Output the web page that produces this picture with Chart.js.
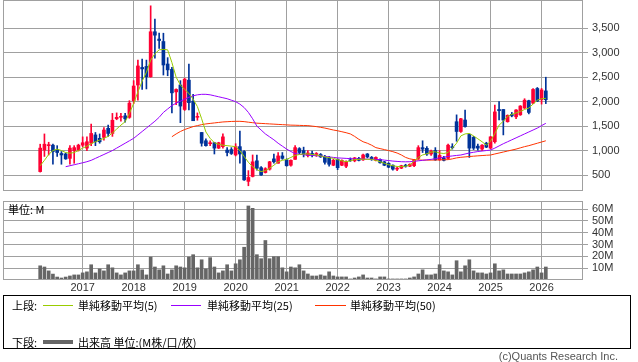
<!DOCTYPE html>
<html>
<head>
<meta charset="utf-8">
<script src="https://cdn.jsdelivr.net/npm/chart.js@4.4.1/dist/chart.umd.min.js"></script>
<style>
  body { margin: 0; background: #fff; width: 638px; height: 362px; position: relative; overflow: hidden;
         font-family: "Noto Sans CJK JP", sans-serif; font-size: 11px; color: #000; }
  canvas { position: absolute; left: 0; }
  #price { top: 0; }
  #vol { top: 201px; }
  .t { position: absolute; line-height: 14px; white-space: nowrap; }
  .ln { position: absolute; height: 1px; }
  #legend { position: absolute; left: 3px; top: 295px; width: 626px; height: 52px; border: 1px solid #000; }
  #copy { position: absolute; right: 20px; top: 349px; font-family: "Liberation Sans", sans-serif; color: #555; }
</style>
</head>
<body>
<canvas id="price" width="638" height="191"></canvas>
<canvas id="vol" width="638" height="95"></canvas>
<div class="t" style="left:8px;top:202px;">単位: M</div>

<div id="legend"></div>
<div class="t" style="left:12px;top:298px;">上段:</div>
<div class="ln" style="left:43px;top:305px;width:30px;background:#99cc00;"></div>
<div class="t" style="left:78px;top:298px;">単純移動平均(5)</div>
<div class="ln" style="left:171px;top:305px;width:30px;background:#9900ff;"></div>
<div class="t" style="left:207px;top:298px;">単純移動平均(25)</div>
<div class="ln" style="left:315px;top:305px;width:31px;background:#ff3300;"></div>
<div class="t" style="left:350px;top:298px;">単純移動平均(50)</div>
<div class="t" style="left:12px;top:335px;">下段:</div>
<div class="ln" style="left:43px;top:340px;width:30px;height:4px;background:#666;"></div>
<div class="t" style="left:78px;top:335px;">出来高 単位:(M株/口/枚)</div>
<div class="t" id="copy">(c)Quants Research Inc.</div>

<script>
// 月足 2016/03 - 2026/02
const months = [
  '2016/03','2016/04','2016/05','2016/06','2016/07','2016/08','2016/09','2016/10','2016/11','2016/12',
  '2017/01','2017/02','2017/03','2017/04','2017/05','2017/06','2017/07','2017/08','2017/09','2017/10','2017/11','2017/12',
  '2018/01','2018/02','2018/03','2018/04','2018/05','2018/06','2018/07','2018/08','2018/09','2018/10','2018/11','2018/12',
  '2019/01','2019/02','2019/03','2019/04','2019/05','2019/06','2019/07','2019/08','2019/09','2019/10','2019/11','2019/12',
  '2020/01','2020/02','2020/03','2020/04','2020/05','2020/06','2020/07','2020/08','2020/09','2020/10','2020/11','2020/12',
  '2021/01','2021/02','2021/03','2021/04','2021/05','2021/06','2021/07','2021/08','2021/09','2021/10','2021/11','2021/12',
  '2022/01','2022/02','2022/03','2022/04','2022/05','2022/06','2022/07','2022/08','2022/09','2022/10','2022/11','2022/12',
  '2023/01','2023/02','2023/03','2023/04','2023/05','2023/06','2023/07','2023/08','2023/09','2023/10','2023/11','2023/12',
  '2024/01','2024/02','2024/03','2024/04','2024/05','2024/06','2024/07','2024/08','2024/09','2024/10','2024/11','2024/12',
  '2025/01','2025/02','2025/03','2025/04','2025/05','2025/06','2025/07','2025/08','2025/09','2025/10','2025/11','2025/12',
  '2026/01','2026/02'
];

const open = [
  570,1010,1100,1110,1010,940,930,840,1000,1010,
  1110,1050,1150,1320,1250,1270,1455,1350,1650,1680,
  1710,1680,2020,2340,2700,2720,2510,3430,3280,3230,
  2770,2660,2200,2340,1840,2440,2010,1680,1370,1200,
  1140,1160,1050,1080,1010,1020,910,1080,980,370,
  470,790,650,550,620,830,740,890,810,700,
  820,1040,1000,900,940,920,920,880,860,700,
  820,700,680,800,790,840,810,930,860,800,
  820,770,740,700,620,640,700,680,690,840,
  1060,1046,930,1000,810,850,840,1080,1590,1390,
  1625,1330,1270,1090,1030,1150,1050,1180,1840,1840,
  1590,1740,1690,1730,1870,2020,1970,2270,2040,2220
];
const high = [
  1130,1340,1170,1130,1100,980,950,1100,1100,1130,
  1280,1280,1540,1370,1340,1470,1520,1760,1770,1760,
  1760,2020,2430,2850,2870,2850,3960,3690,3400,3400,
  2900,2700,2260,2430,2480,2770,2150,1770,1370,1240,
  1200,1170,1170,1340,1060,1060,1140,1400,1000,590,
  910,910,670,650,780,930,960,960,830,810,
  1100,1060,1070,1000,990,960,940,900,880,820,
  830,810,790,850,860,860,930,940,880,870,
  830,780,750,710,660,700,720,730,820,1100,
  1200,1080,1010,1060,1000,880,1130,1140,1730,1660,
  1830,1340,1290,1130,1120,1170,1290,1930,2000,1840,
  1730,1780,1840,1920,2060,2030,2270,2290,2270,2500
];
const low = [
  560,880,910,720,880,720,820,720,740,990,
  1080,1000,1100,1100,1150,1210,1290,1290,1630,1600,
  1580,1660,1960,2030,2250,2260,2500,2890,3090,2545,
  2530,1770,1940,1570,1820,1830,1610,1620,1090,1090,
  1100,930,1040,1050,890,920,890,740,390,280,
  460,600,490,540,600,740,740,820,680,680,
  820,930,870,870,870,880,860,720,680,690,
  610,690,650,780,770,790,800,850,800,790,
  740,690,650,600,590,630,660,670,670,820,
  960,900,900,800,800,790,830,1030,1190,1370,
  1480,860,1020,1010,1000,1060,1040,1150,1625,1320,
  1580,1690,1650,1720,1860,1750,1960,2000,1950,1960
];
const close = [
  1050,1130,1110,980,960,910,830,1050,1060,1110,
  1160,1180,1350,1180,1180,1420,1350,1620,1680,1700,
  1650,1970,2320,2730,2670,2510,3430,3360,3250,2750,
  2650,2180,2250,1910,2460,1980,1610,1700,1150,1100,
  1160,1050,1160,1280,960,940,1080,930,400,450,
  770,640,500,630,770,770,890,840,690,800,
  1060,960,920,950,920,940,870,760,720,800,
  650,800,770,790,850,800,910,870,830,860,
  750,700,660,620,640,690,680,720,810,1060,
  1030,930,990,810,900,800,1110,1060,1390,1650,
  1490,1050,1050,1050,1110,1070,1280,1790,1815,1625,
  1720,1710,1830,1910,2030,1780,2250,2010,2240,2040
];
// 出来高 (M)
const volume = [
  12,11,7.7,5,2.5,1.7,2.5,3.4,4.3,4.3,
  6,6.9,12.9,6,9.4,7.7,12.9,10.3,6,4.3,
  6,7.7,7.7,12.9,8.6,4.3,19.4,11,8.6,12,
  5.1,8.6,12,11,10.3,19.4,21.4,10.3,17.1,9.4,
  18.9,11,6,7.7,12.9,7.7,13.7,17.1,27.7,62.6,
  60.6,21.4,18,33.4,18,19.7,19.7,10.3,6.9,11,
  10.3,12.9,7.7,5.1,3.4,3.4,4.3,3.4,6.9,3.4,
  2.6,2.6,2.6,0.9,1.7,2.6,4.3,1.7,1.7,0.9,
  2.6,2.6,0.9,0.9,0.9,0.9,0.9,1.7,2.6,5.1,
  8.6,4.3,4.3,5.1,12.9,7.7,6.9,4.3,16.3,6.9,
  12,17.1,7.7,6,6,5.1,6,13.7,7.7,8.6,
  5.1,5.1,5.1,5.1,6,6.9,8.6,11,6,11
];
// 移動平均 (読み取り値)
const ma5 = [
  690,800,920,1000,1030,1000,960,945,960,1000,
  1050,1090,1140,1180,1215,1250,1290,1360,1440,1520,
  1590,1760,1966,2200,2420,2600,2850,2980,3060,3070,
  3060,2800,2500,2340,2250,2170,2050,1900,1650,1380,
  1250,1160,1130,1110,1100,1090,1080,1000,880,760,
  670,610,570,590,640,700,770,800,820,860,
  900,920,930,930,920,910,890,870,855,840,
  815,790,772,790,815,820,825,820,820,800,
  772,740,710,690,675,670,680,704,790,860,
  910,935,970,975,950,940,960,1050,1150,1300,
  1340,1350,1300,1240,1180,1110,1190,1350,1520,1600,
  1700,1740,1770,1800,1840,1870,1950,2030,2060,2068
];
const ma25 = [
  null,null,null,null,null,null,670,690,710,730,
  750,772,800,840,880,920,960,1000,1050,1100,
  1150,1200,1250,1320,1390,1460,1530,1600,1680,1780,
  1850,1920,1970,2010,2050,2090,2120,2140,2150,2150,
  2140,2120,2100,2080,2060,2030,2000,1950,1880,1780,
  1650,1500,1420,1340,1280,1220,1150,1090,1030,980,
  940,925,915,905,900,895,890,880,870,860,
  850,845,840,835,830,828,826,824,822,820,
  815,805,795,785,778,772,770,772,780,790,
  800,810,820,835,850,865,880,890,900,909,
  930,950,965,980,990,1000,1011,1050,1095,1140,
  1180,1220,1260,1300,1340,1380,1420,1460,1510,1557
];
const ma50 = [
  null,null,null,null,null,null,null,null,null,null,
  null,null,null,null,null,null,null,null,null,null,
  null,null,null,null,null,null,null,null,null,null,
  null,1283,1340,1390,1430,1460,1490,1510,1530,1545,
  1555,1565,1575,1585,1590,1595,1598,1598,1592,1580,
  1570,1560,1555,1550,1545,1540,1535,1530,1525,1520,
  1518,1515,1512,1510,1500,1490,1475,1460,1440,1420,
  1405,1385,1365,1340,1290,1230,1180,1150,1110,1060,
  1040,1020,1000,977,950,910,860,830,815,807,
  805,805,805,807,810,812,814,830,850,862,
  870,878,885,892,898,904,909,930,950,970,
  990,1010,1030,1055,1080,1100,1125,1150,1175,1200
];
const priceTicks = [500, 1000, 1500, 2000, 2500, 3000, 3500];
const volTicks = [10, 20, 30, 40, 50, 60];

const UP = '#ff0033', DOWN = '#003399', GRID = '#a0a0a0';
const janIdx = months.map((m, i) => m.endsWith('/01') ? i : -1).filter(i => i >= 0);
const up = close.map((c, i) => c >= open[i]);
const candleColors = up.map(u => u ? UP : DOWN);
const xy = arr => arr.map((v, i) => ({ x: i, y: v }));

// keep chart area fixed: no extra label padding
const noPad = s => { s.paddingTop = 0; s.paddingBottom = 0; s.paddingLeft = 0; s.paddingRight = 0; };

const frame = {
  id: 'frame',
  afterDatasetsDraw(chart) {
    const a = chart.chartArea, c = chart.ctx;
    c.save();
    c.strokeStyle = GRID;
    c.lineWidth = 1;
    c.strokeRect(Math.round(a.left) + 0.5, Math.round(a.top) + 0.5,
                 Math.round(a.right - a.left) - 1, Math.round(a.bottom - a.top) - 1);
    c.restore();
  }
};

const xScale = (showLabels, h) => ({
  type: 'linear', min: -8.75, max: 127.75, offset: false,
  afterBuildTicks: s => { s.ticks = janIdx.map(v => ({ value: v })); },
  afterFit: s => { noPad(s); s.height = h; },
  grid: { color: GRID, drawTicks: false, offset: false },
  border: { display: false },
  ticks: {
    display: showLabels, autoSkip: false, maxRotation: 0, padding: 1,
    color: '#333', font: { family: 'Liberation Sans', size: 11 },
    callback: v => months[v] ? months[v].slice(0, 4) : ''
  }
});

const yScale = (min, max, ticks, fmt) => ({
  position: 'right', min: min, max: max,
  afterBuildTicks: s => { s.ticks = ticks.map(v => ({ value: v })); },
  afterFit: s => { noPad(s); s.width = 55; },
  grid: { color: GRID, tickLength: 5 },
  border: { display: false },
  ticks: { autoSkip: false, padding: 4, color: '#333',
           font: { family: 'Liberation Sans', size: 11 }, callback: fmt }
});

Chart.defaults.animation = false;

new Chart(document.getElementById('price'), {
  type: 'bar',
  data: {
    datasets: [
      { type: 'line', data: xy(ma5), borderColor: '#99cc00', borderWidth: 1, pointRadius: 0, tension: 0, order: 0 },
      { type: 'line', data: xy(ma25), borderColor: '#9900ff', borderWidth: 1, pointRadius: 0, tension: 0, order: 0 },
      { type: 'line', data: xy(ma50), borderColor: '#ff3300', borderWidth: 1, pointRadius: 0, tension: 0, order: 0 },
      { data: open.map((o, i) => ({ x: i, y: [o, close[i]] })), backgroundColor: candleColors,
        barThickness: 3, minBarLength: 1, grouped: false, order: 1 },
      { data: low.map((l, i) => ({ x: i, y: [l, high[i]] })), backgroundColor: candleColors,
        barThickness: 1, grouped: false, order: 2 }
    ]
  },
  options: {
    responsive: false, devicePixelRatio: 1,
    layout: { padding: { left: 3, top: 0, right: 0, bottom: 0 } },
    plugins: { legend: { display: false }, tooltip: { enabled: false } },
    scales: {
      x: xScale(false, 0),
      y: yScale(173, 4079, priceTicks, v => v.toLocaleString('en-US'))
    }
  },
  plugins: [frame]
});

new Chart(document.getElementById('vol'), {
  type: 'bar',
  data: {
    datasets: [
      { data: xy(volume), backgroundColor: '#666666', barThickness: 3 }
    ]
  },
  options: {
    responsive: false, devicePixelRatio: 1,
    layout: { padding: { left: 3, top: 0, right: 0, bottom: 0 } },
    plugins: { legend: { display: false }, tooltip: { enabled: false } },
    scales: {
      x: xScale(true, 16),
      y: yScale(0, 66.8, volTicks, v => v + 'M')
    }
  },
  plugins: [frame]
});
</script>
</body>
</html>
